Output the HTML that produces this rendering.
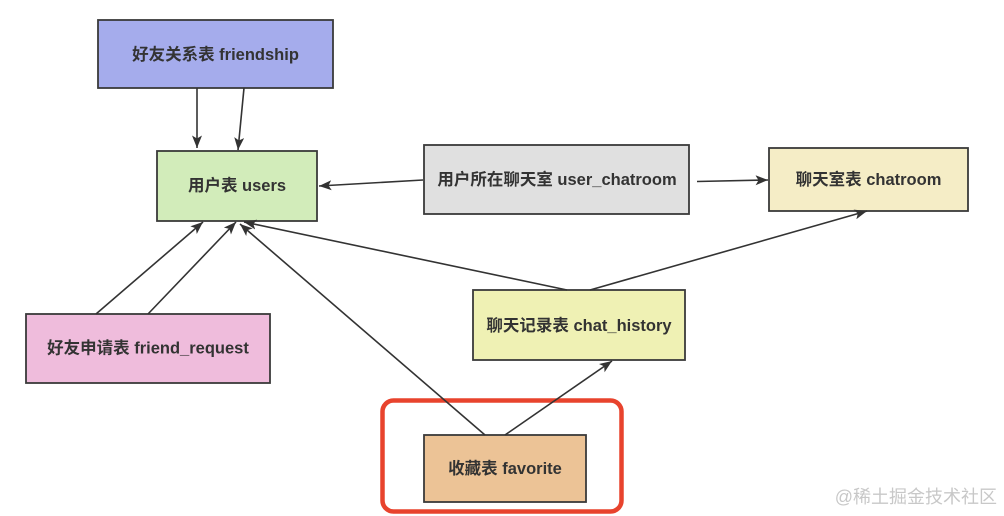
<!DOCTYPE html>
<html>
<head>
<meta charset="utf-8">
<style>
  html, body { margin: 0; padding: 0; background: #ffffff; }
  body { width: 1004px; height: 516px; overflow: hidden; }
  svg { display: block; }
  .t { font-family: "Liberation Sans", "Noto Sans CJK SC", sans-serif; font-weight: bold; font-size: 16.5px; fill: #333333; }
  .wm { font-family: "Liberation Sans", "Noto Sans CJK SC", sans-serif; font-size: 18px; fill: #c8c8c8; }
</style>
</head>
<body>
<svg width="1004" height="516" viewBox="0 0 1004 516" xmlns="http://www.w3.org/2000/svg">
  <defs>
    <marker id="ah" markerUnits="userSpaceOnUse" markerWidth="14" markerHeight="12" refX="12.5" refY="5" orient="auto">
      <path d="M0,0 L12.5,5 L0,10 L3,5 z" fill="#333333"/>
    </marker>
  </defs>

  <!-- boxes -->
  <rect x="98" y="20" width="235" height="68" fill="#a5acec" stroke="#3a3a3a" stroke-width="1.8"/>
  <rect x="157" y="151" width="160" height="70" fill="#d2ecba" stroke="#3a3a3a" stroke-width="1.8"/>
  <rect x="424" y="145" width="265" height="69" fill="#e0e0e0" stroke="#3a3a3a" stroke-width="1.8"/>
  <rect x="769" y="148" width="199" height="63" fill="#f5edc6" stroke="#3a3a3a" stroke-width="1.8"/>
  <rect x="473" y="290" width="212" height="70" fill="#eff1b4" stroke="#3a3a3a" stroke-width="1.8"/>
  <rect x="26" y="314" width="244" height="69" fill="#efbcdc" stroke="#3a3a3a" stroke-width="1.8"/>
  <rect x="424" y="435" width="162" height="67" fill="#ecc396" stroke="#3a3a3a" stroke-width="1.8"/>

  <!-- highlight -->
  <rect x="382.5" y="400.5" width="239" height="111" rx="11" ry="11" fill="none" stroke="#e8432d" stroke-width="4.5"/>

  <!-- connectors -->
  <g stroke="#333333" stroke-width="1.6" fill="none" marker-end="url(#ah)">
    <line x1="197" y1="88" x2="197" y2="148"/>
    <line x1="244" y1="88" x2="238" y2="150"/>
    <line x1="423" y1="180" x2="319" y2="186"/>
    <line x1="697" y1="181.5" x2="768" y2="180"/>
    <line x1="96" y1="314" x2="203" y2="222"/>
    <line x1="148" y1="314" x2="236" y2="222"/>
    <line x1="567" y1="290" x2="244" y2="222"/>
    <line x1="590" y1="290" x2="867" y2="211"/>
    <line x1="485" y1="435" x2="240" y2="224"/>
    <line x1="505" y1="435" x2="612" y2="361"/>
  </g>

  <!-- labels -->
  <text class="t" x="215.5" y="55" text-anchor="middle" dominant-baseline="central">好友关系表 friendship</text>
  <text class="t" x="237" y="186" text-anchor="middle" dominant-baseline="central">用户表 users</text>
  <text class="t" x="557" y="180" text-anchor="middle" dominant-baseline="central">用户所在聊天室 user_chatroom</text>
  <text class="t" x="868.5" y="180" text-anchor="middle" dominant-baseline="central">聊天室表 chatroom</text>
  <text class="t" x="579" y="326" text-anchor="middle" dominant-baseline="central">聊天记录表 chat_history</text>
  <text class="t" x="148" y="348.5" text-anchor="middle" dominant-baseline="central">好友申请表 friend_request</text>
  <text class="t" x="505" y="469" text-anchor="middle" dominant-baseline="central">收藏表 favorite</text>

  <!-- watermark -->
  <text class="wm" x="997" y="497" text-anchor="end" dominant-baseline="central">@稀土掘金技术社区</text>
</svg>
</body>
</html>
